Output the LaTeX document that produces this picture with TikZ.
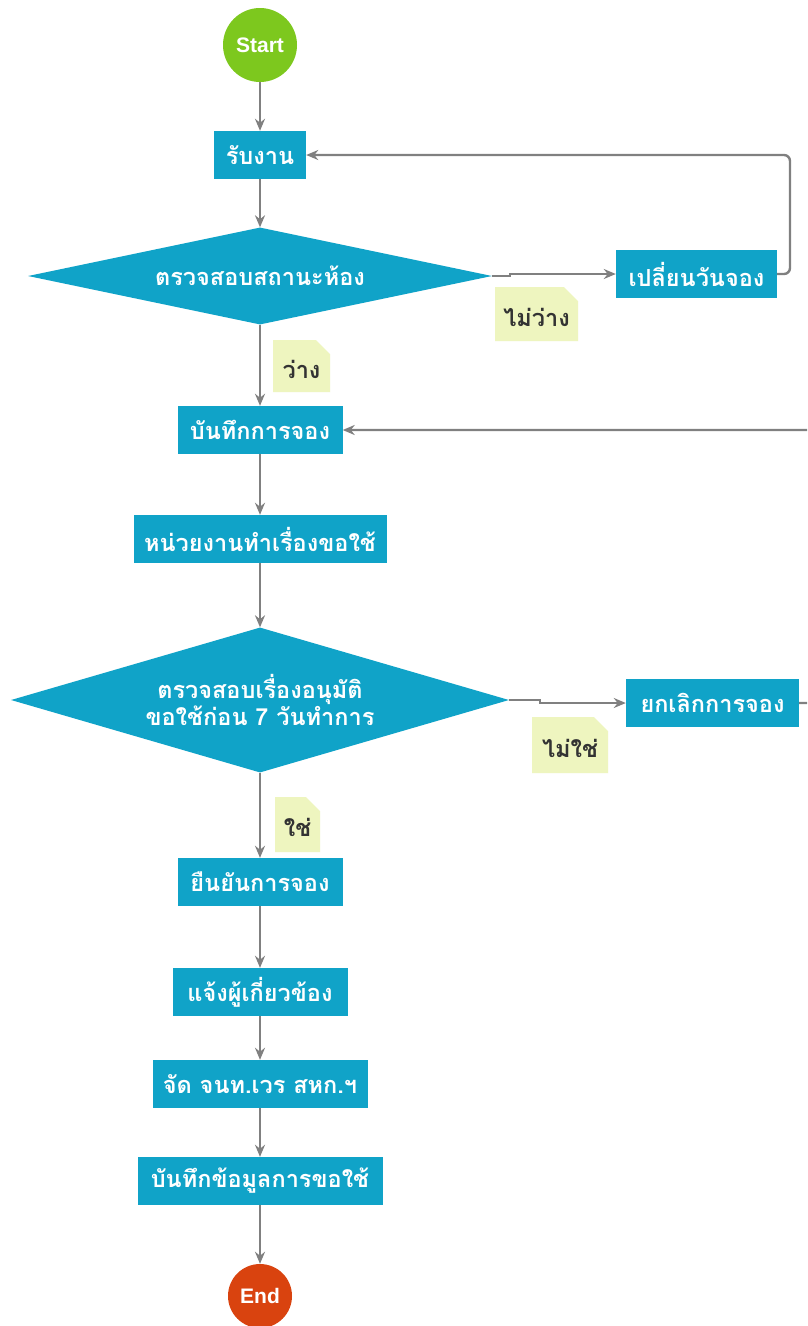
\documentclass[tikz,border=0pt]{standalone}
\usepackage{fontspec}
\setmainfont{Liberation Sans}
\newfontfamily\thaifont[Script=Thai]{Loma}
\usetikzlibrary{shapes.geometric,arrows.meta}
\definecolor{boxc}{HTML}{10A3C8}
\definecolor{arrc}{HTML}{808080}
\definecolor{notec}{HTML}{EEF5BF}
\definecolor{notetx}{HTML}{333333}
\definecolor{startc}{HTML}{7DC81E}
\definecolor{endc}{HTML}{D9430F}
\newcommand\mynote[6]{%
  \fill[notec] (#1,#2) -- (#3-14,#2) -- (#3,#2+14) -- (#3,#4) -- (#1,#4) -- cycle;
  \node[notelbl] (#5) at ({(#1+#3)/2},{(#2+#4)/2+3}) {#6};}
\begin{document}
\begin{tikzpicture}[x=1pt,y=-1pt,
  proc/.style={rectangle, fill=boxc, text=white, font=\thaifont\bfseries\fontsize{23.5}{25}\selectfont, inner sep=0pt, minimum height=48},
  dec/.style={diamond, fill=boxc, text=white, font=\thaifont\bfseries\fontsize{23.5}{25}\selectfont, inner sep=0pt, align=center},
  term/.style={circle, text=white, font=\bfseries\fontsize{21}{24}\selectfont, inner sep=0pt},
  notelbl/.style={text=notetx, font=\thaifont\bfseries\fontsize{23.5}{25}\selectfont, inner sep=0pt},
  conn/.style={draw=arrc, line width=2.4pt, -{Stealth[length=12pt,width=10pt]}},
  line/.style={draw=arrc, line width=2.4pt}]
\clip (0,0) rectangle (807,1326);
\fill[white] (0,0) rectangle (807,1326);

\node[term, fill=startc, minimum size=74] (start) at (260,45) {Start};
\node[proc, minimum width=92] (rub) at (260,155) {รับงาน};
\node[dec, minimum width=464, minimum height=97, aspect=4.8] (chk) at (260,276) {ตรวจสอบสถานะห้อง};
\node[proc, minimum width=161] (chg) at (696.5,274) {เปลี่ยนวันจอง};
\node[proc, minimum width=165] (rec) at (260,430) {บันทึกการจอง};
\node[proc, minimum width=253] (req) at (260,539) {หน่วยงานทำเรื่องขอใช้};
\node[dec, minimum width=498, minimum height=145, aspect=3.4] (apr) at (260,700) {ตรวจสอบเรื่องอนุมัติ\\ขอใช้ก่อน 7 วันทำการ};
\node[proc, minimum width=173] (cnl) at (712.5,703) {ยกเลิกการจอง};
\node[proc, minimum width=165] (cfm) at (260,882) {ยืนยันการจอง};
\node[proc, minimum width=175] (ntf) at (260,992) {แจ้งผู้เกี่ยวข้อง};
\node[proc, minimum width=215] (asg) at (260,1084) {จัด จนท.เวร สหก.ฯ};
\node[proc, minimum width=245] (sav) at (260,1181) {บันทึกข้อมูลการขอใช้};
\node[term, fill=endc, minimum size=64] (end) at (260,1296) {End};

\mynote{495}{287}{578}{341}{nbusy}{ไม่ว่าง}
\mynote{273}{340}{330}{392}{nfree}{ว่าง}
\mynote{532}{717}{608}{773}{nno}{ไม่ใช่}
\mynote{275}{797}{320}{852}{nyes}{ใช่}

\coordinate (j1) at (510,276);
\coordinate (lp) at (790,155);
\coordinate (j2) at (540,700);
\coordinate (lp2) at (830,430);

\draw[conn] (start) -- (rub);
\draw[conn] (rub) -- (chk);
\draw[conn] (chk.east) -- (j1) |- (chg.west);
\draw[conn, rounded corners=6pt] (chg.east) -| (lp) -- (rub.east);
\draw[conn] (chk) -- (rec);
\draw[conn] (rec) -- (req);
\draw[conn] (req) -- (apr);
\draw[conn] (apr.east) -- (j2) |- (cnl.west);
\draw[conn, rounded corners=6pt] (cnl.east) -| (lp2) -- (rec.east);
\draw[conn] (apr) -- (cfm);
\draw[conn] (cfm) -- (ntf);
\draw[conn] (ntf) -- (asg);
\draw[conn] (asg) -- (sav);
\draw[conn] (sav) -- (end);
\end{tikzpicture}
\end{document}
